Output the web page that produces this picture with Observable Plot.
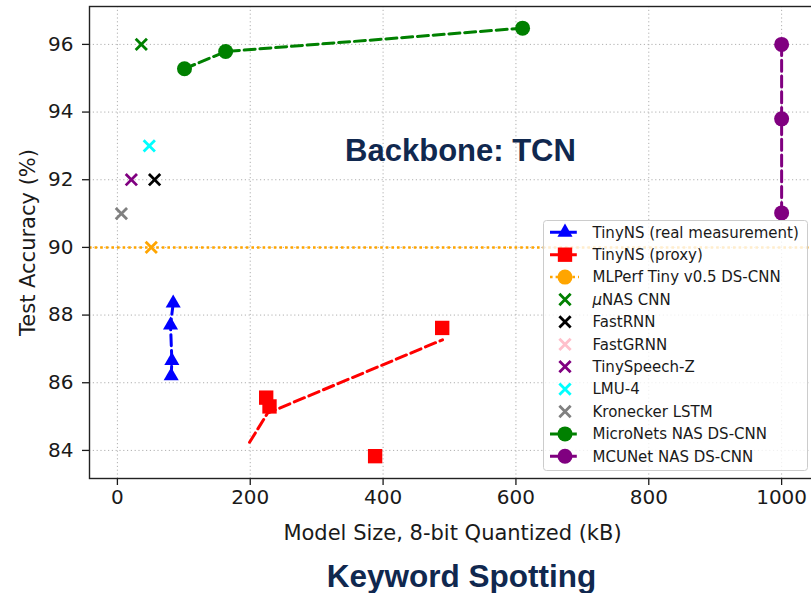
<!DOCTYPE html>
<html>
<head>
<meta charset="utf-8">
<script src="https://cdn.jsdelivr.net/npm/d3@7"></script>
<script src="https://cdn.jsdelivr.net/npm/@observablehq/plot@0.6"></script>
<style>
  html, body { margin: 0; padding: 0; background: white; overflow: hidden; }
  #chart svg { display: block; }
  #caption {
    width: 811px; box-sizing: border-box; padding-left: 112px;
    text-align: center; font-family: "Liberation Sans", Arial, sans-serif;
    font-weight: bold; font-size: 31.5px; line-height: 36px; color: #10284f;
    margin-top: 10px;
  }
</style>
</head>
<body>
<div id="chart"></div>
<div id="caption">Keyword Spotting</div>
<script>
// ---- data ----
const xTicks = [0, 200, 400, 600, 800, 1000];
const yTicks = [84, 86, 88, 90, 92, 94, 96];

const tinyRealSize = [84, 80, 82, 81];
const tinyRealAcc  = [88.35, 87.7, 86.65, 86.2];

const tinyProxySize = [224, 229, 489, 388];
const tinyProxyAcc  = [85.56, 85.3, 87.62, 83.83];
const tinyProxyLineSize = [199, 226, 489.5];
const tinyProxyLineAcc  = [84.24, 85.1, 87.27];

const mlperfSize = [51];
const mlperfAcc  = [90];

const baseNames  = ["μNAS CNN", "FastRNN", "FastGRNN", "TinySpeech-Z", "LMU-4", "Kronecker LSTM"];
const baseColors = ["green", "black", "pink", "purple", "cyan", "gray"];
const baseSize   = [36, 56, null, 21, 48, 6];
const baseAcc    = [96, 92, null, 92, 93, 91];

const microSize = [101, 163, 610];
const microAcc  = [95.28, 95.79, 96.48];

const mcuSize = [1000, 1000, 1000];
const mcuAcc  = [96, 93.8, 91.02];

const zip = (xs, ys) => xs.map((x, i) => ({x, y: ys[i]}));

const dashed = "11,4.8";
const dotted = "2.6,3";

const plot = Plot.plot({
  width: 811, height: 548,
  marginLeft: 89, marginRight: -4, marginTop: 6, marginBottom: 70,
  x: {domain: [-42, 1051]},
  y: {domain: [83.17, 97.12]},
  style: {fontFamily: "DejaVu Sans", fontSize: "20px", color: "#1a1a1a", background: "white", overflow: "hidden"},
  marks: [
    Plot.ruleX(xTicks, {stroke: "#b0b0b0", strokeWidth: 1, strokeDasharray: "1.2,2.6"}),
    Plot.ruleY(yTicks, {stroke: "#b0b0b0", strokeWidth: 1, strokeDasharray: "1.2,2.6"}),
    Plot.axisX({ticks: xTicks, tickSize: 7, tickPadding: 4, tickFormat: d => String(d), label: null, fontSize: 20, strokeWidth: 1.3}),
    Plot.axisY({ticks: yTicks, tickSize: 7, tickPadding: 9, tickFormat: d => String(d), label: null, fontSize: 20, strokeWidth: 1.3}),
    // TinyNS real
    Plot.line(zip(tinyRealSize, tinyRealAcc), {x: "x", y: "y", stroke: "blue", strokeWidth: 3, strokeDasharray: dashed}),
    Plot.dot(zip(tinyRealSize, tinyRealAcc), {x: "x", y: "y", symbol: "triangle", r: 5.6, fill: "blue"}),
    // TinyNS proxy
    Plot.line(zip(tinyProxyLineSize, tinyProxyLineAcc), {x: "x", y: "y", stroke: "red", strokeWidth: 3, strokeDasharray: dashed}),
    Plot.dot(zip(tinyProxySize, tinyProxyAcc), {x: "x", y: "y", symbol: "square", r: 8.1, fill: "red"}),
    // MLPerf
    Plot.ruleY(mlperfAcc, {stroke: "orange", strokeWidth: 2.5, strokeDasharray: dotted}),
    Plot.dot(zip(mlperfSize, mlperfAcc), {x: "x", y: "y", symbol: "times", r: 5.2, stroke: "orange", strokeWidth: 2.8}),
    // baselines
    Plot.dot(baseNames.map((n, i) => ({n, c: baseColors[i], x: baseSize[i], y: baseAcc[i]})),
      {x: "x", y: "y", symbol: "times", r: 5.2, stroke: "c", strokeWidth: 2.8}),
    // MicroNets
    Plot.line(zip(microSize, microAcc), {x: "x", y: "y", stroke: "green", strokeWidth: 3, strokeDasharray: dashed}),
    Plot.dot(zip(microSize, microAcc), {x: "x", y: "y", r: 7.5, fill: "green"}),
    // MCUNet
    Plot.line(zip(mcuSize, mcuAcc), {x: "x", y: "y", stroke: "purple", strokeWidth: 3, strokeDasharray: dashed}),
    Plot.dot(zip(mcuSize, mcuAcc), {x: "x", y: "y", r: 7.5, fill: "purple"}),
    Plot.frame({stroke: "#222", strokeWidth: 1.4}),
    // annotation & axis labels
    Plot.text(["Backbone: TCN"], {text: d => d, frameAnchor: "top", dx: 8, dy: 132, fontSize: 31, fontWeight: "bold",
      fill: "#10284f", fontFamily: "Liberation Sans"}),
    Plot.text(["Model Size, 8-bit Quantized (kB)"], {text: d => d, frameAnchor: "bottom", lineAnchor: "middle",
      textAnchor: "middle", dy: 55, fontSize: 21, fill: "#1a1a1a"}),
    Plot.text(["Test Accuracy (%)"], {text: d => d, frameAnchor: "left", textAnchor: "middle", lineAnchor: "middle",
      dx: -61, rotate: -90, fontSize: 21, fill: "#1a1a1a"})
  ]
});

// ---- legend ----
const legendNames = ["TinyNS (real measurement)", "TinyNS (proxy)", "MLPerf Tiny v0.5 DS-CNN",
  ...baseNames, "MicroNets NAS DS-CNN", "MCUNet NAS DS-CNN"];
const legendColors = ["blue", "red", "orange", ...baseColors, "green", "purple"];
const legendSymbols = ["triangle", "square", "circle", "times", "times", "times", "times", "times", "times", "circle", "circle"];
const legendDash = [dashed, dashed, dotted, null, null, null, null, null, null, dashed, dashed];

const svg = d3.select(plot);
const lg = svg.append("g").style("font-family", "DejaVu Sans").style("font-size", "15px").attr("text-anchor", "start");
lg.append("rect").attr("x", 543.5).attr("y", 220.5).attr("width", 264).attr("height", 250).attr("rx", 3)
  .attr("fill", "white").attr("fill-opacity", 0.8).attr("stroke", "#cccccc");
const symMap = {triangle: d3.symbolTriangle, square: d3.symbolSquare, times: d3.symbolTimes};
const rMap = {triangle: 5.6, square: 8.1, times: 5.2};
legendNames.forEach((name, i) => {
  const cy = 232.3 + i * 22.4;
  const col = legendColors[i];
  const row = lg.append("g");
  if (legendDash[i]) {
    row.append("line").attr("x1", 550).attr("x2", 579).attr("y1", cy).attr("y2", cy)
      .attr("stroke", col).attr("stroke-width", legendDash[i] === dotted ? 2.5 : 3).attr("stroke-dasharray", legendDash[i]);
  }
  const s = legendSymbols[i];
  if (s === "circle") {
    row.append("circle").attr("cx", 565).attr("cy", cy).attr("r", 7.5).attr("fill", col);
  } else {
    const r = rMap[s];
    const path = d3.symbol(symMap[s], Math.PI * r * r)();
    const p = row.append("path").attr("d", path).attr("transform", `translate(565,${cy})`);
    if (s === "times") p.attr("fill", "none").attr("stroke", col).attr("stroke-width", 2.8);
    else p.attr("fill", col);
  }
  const t = row.append("text").attr("x", 592.5).attr("y", cy).attr("dy", "0.35em")
    .attr("text-anchor", "start").attr("fill", "#1a1a1a");
  if (name.startsWith("μ")) {
    t.append("tspan").attr("font-style", "italic").text("μ");
    t.append("tspan").text(name.slice(1));
  } else {
    t.text(name);
  }
});

document.getElementById("chart").appendChild(plot);
</script>
</body>
</html>
